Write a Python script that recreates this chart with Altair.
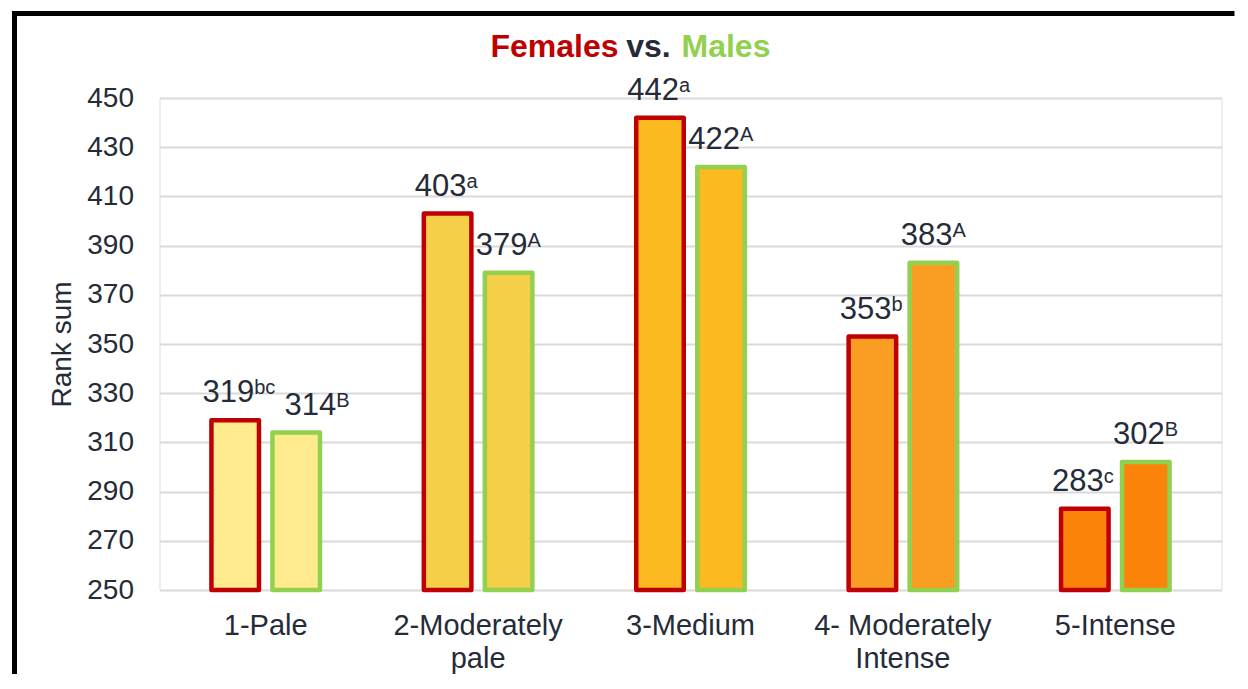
import altair as alt
import pandas as pd

categories = ["1-Pale", "2-Moderately pale", "3-Medium", "4- Moderately Intense", "5-Intense"]
sexes = ["Females", "Males"]
female_values = [319, 403, 442, 353, 283]
male_values = [314, 379, 422, 383, 302]
female_letters = ["bc", "a", "a", "b", "c"]
male_letters = ["B", "A", "A", "A", "B"]
fill_colors = ["#FFEB8D", "#F6CF48", "#FBBA20", "#F99D23", "#FB8309"]
stroke_colors = ["#C00000", "#92D050"]
y_ticks = [250, 270, 290, 310, 330, 350, 370, 390, 410, 430, 450]

rows = []
for i, c in enumerate(categories):
    rows.append({"cat": c, "sex": "Females", "value": female_values[i], "sup": female_letters[i]})
    rows.append({"cat": c, "sex": "Males", "value": male_values[i], "sup": male_letters[i]})
df = pd.DataFrame(rows)

FONT = "Liberation Sans"
TXT = "#252C38"

label_expr = ("datum.label == '2-Moderately pale' ? ['2-Moderately', 'pale'] : "
              "datum.label == '4- Moderately Intense' ? ['4- Moderately', 'Intense'] : datum.label")

base = alt.Chart(df).encode(
    x=alt.X("cat:N", sort=categories,
            scale=alt.Scale(paddingInner=0.489, paddingOuter=0.2445),
            axis=alt.Axis(title=None, labelAngle=0, domain=False, ticks=False, tickSize=0,
                          labelFontSize=29, labelPadding=21, labelLineHeight=33,
                          labelColor=TXT, labelFont=FONT, labelExpr=label_expr)),
    xOffset=alt.XOffset("sex:N", sort=sexes,
                        scale=alt.Scale(paddingInner=0.221, paddingOuter=0)),
)

yenc = alt.Y("value:Q", scale=alt.Scale(domain=[250, 450], zero=False, nice=False),
             axis=alt.Axis(values=y_ticks, title="Rank sum", domain=False, ticks=False, tickSize=0,
                           gridColor="#D9D9D9", gridWidth=2,
                           labelFontSize=28, labelPadding=26, labelColor=TXT, labelFont=FONT,
                           titleFontSize=28, titleFontWeight="normal", titleColor=TXT,
                           titleFont=FONT, titlePadding=10))

bars = base.mark_bar(strokeWidth=4.5, strokeJoin="round").encode(
    y=yenc,
    y2=alt.datum(250),
    fill=alt.Color("cat:N", scale=alt.Scale(domain=categories, range=fill_colors), legend=None),
    stroke=alt.Stroke("sex:N", scale=alt.Scale(domain=sexes, range=stroke_colors), legend=None),
)

special = "datum.cat == '1-Pale' && datum.sex == 'Males'"

nums = base.mark_text(align="right", baseline="alphabetic", dx=19, dy=-18,
                      fontSize=31, font=FONT, color=TXT).encode(
    y=alt.Y("value:Q"), text=alt.Text("value:Q")).transform_filter("!(" + special + ")")
sups = base.mark_text(align="left", baseline="alphabetic", dx=19, dy=-26,
                      fontSize=20, font=FONT, color=TXT).encode(
    y=alt.Y("value:Q"), text=alt.Text("sup:N")).transform_filter("!(" + special + ")")

nums_s = base.mark_text(align="right", baseline="alphabetic", dx=40, dy=-18,
                        fontSize=31, font=FONT, color=TXT).encode(
    y=alt.Y("value:Q"), text=alt.Text("value:Q")).transform_filter(special)
sups_s = base.mark_text(align="left", baseline="alphabetic", dx=40, dy=-26,
                        fontSize=20, font=FONT, color=TXT).encode(
    y=alt.Y("value:Q"), text=alt.Text("sup:N")).transform_filter(special)

one = alt.Data(values=[{"k": 1}])
t1 = alt.Chart(one).mark_text(align="right", baseline="alphabetic", fontSize=32,
                              fontWeight="bold", font=FONT, color="#C00000").encode(
    x=alt.value(459), y=alt.value(-41), text=alt.value("Females"))
t2 = alt.Chart(one).mark_text(align="center", baseline="alphabetic", fontSize=32,
                              fontWeight="bold", font=FONT, color=TXT).encode(
    x=alt.value(489), y=alt.value(-41), text=alt.value("vs."))
t3 = alt.Chart(one).mark_text(align="left", baseline="alphabetic", fontSize=32,
                              fontWeight="bold", font=FONT, color="#92D050").encode(
    x=alt.value(522), y=alt.value(-41), text=alt.value("Males"))

frame_left = alt.Chart(one).mark_rule(color="black", strokeWidth=5).encode(
    x=alt.value(-145), y=alt.value(-87), y2=alt.value(576))
frame_top = alt.Chart(one).mark_rule(color="black", strokeWidth=5).encode(
    x=alt.value(-147.5), x2=alt.value(1075), y=alt.value(-84.5))

chart = alt.layer(frame_left, frame_top, bars, nums, sups, nums_s, sups_s, t1, t2, t3).properties(
    width=1062, height=492,
    padding={"left": 1.5, "top": 0, "right": 0, "bottom": 0},
).configure_view(stroke=None).configure(font=FONT)

chart.save("out.html", embed_options={"renderer": "svg", "actions": False})
